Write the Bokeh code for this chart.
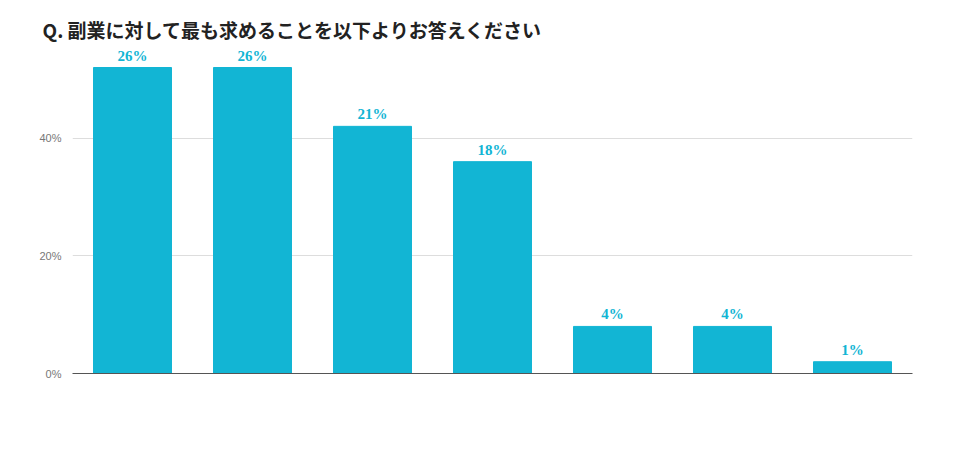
from bokeh.plotting import figure
from bokeh.models import ColumnDataSource, LabelSet, Label, FixedTicker
from bokeh.embed import file_html
from bokeh.resources import INLINE

cats = ["給与水準", "自己成長性", "勤務形態の柔軟性", "仕事内容のやりがい", "仕事内容の社会的意義", "カルチャーマッチ", "優秀な同僚"]
names = ["給与水準", "自己\n成長性", "勤務形態の\n柔軟性", "仕事内容の\nやりがい", "仕事内容の\n社会的意義", "カルチャー\nマッチ", "優秀な同僚"]
values = [26, 26, 21, 18, 4, 4, 1]
# bars in the original are drawn at twice the stated share
heights = [v * 2 for v in values]
tick_vals = [0, 20, 40]
tick_text = ["0%", "20%", "40%"]

color = "#12b5d4"
font = "Noto Sans CJK JP"

src = ColumnDataSource(dict(cat=cats, h=heights, lab=[f"{v}%" for v in values], name=names))

p = figure(x_range=cats, y_range=(0, 55.4), width=940, height=436,
           output_backend="svg", toolbar_location=None,
           min_border_left=72, min_border_right=28, min_border_top=47, min_border_bottom=63)
p.vbar(x="cat", top="h", width=0.65, color=color, source=src)

p.add_layout(LabelSet(x="cat", y="h", text="lab", source=src, text_align="center",
                      y_offset=4, text_color=color, text_font_size="15px",
                      text_font_style="bold", text_font=font))
p.add_layout(LabelSet(x="cat", y=0, text="name", source=src, text_align="center",
                      text_baseline="top", y_offset=-10, text_color="#222222",
                      text_font_size="12px", text_font=font, text_line_height=1.4))
# categorical centre of the third bar
p.add_layout(Label(x=2.5, y=0, text="（リモートワーク等）", text_align="center",
                   text_baseline="top", y_offset=-49, text_color="#222222",
                   text_font_size="9px", text_font=font))

p.title.text = "Q. 副業に対して最も求めることを以下よりお答えください"
p.title.text_font = font
p.title.text_font_size = "19px"
p.title.text_color = "#222222"
p.title.offset = -30
p.add_layout(Label(x=592, y=405, x_units="screen", y_units="screen", text="(n=249)",
                   text_font_size="10px", text_color="#444444", text_font=font))

p.xaxis.major_label_text_font_size = "0px"
p.xaxis.major_tick_line_color = None
p.xaxis.minor_tick_line_color = None
p.xaxis.axis_line_color = "#555555"
p.yaxis.ticker = FixedTicker(ticks=tick_vals)
p.yaxis.major_label_overrides = {t: s for t, s in zip(tick_vals, tick_text)}
p.yaxis.axis_line_color = None
p.yaxis.major_tick_line_color = None
p.yaxis.minor_tick_line_color = None
p.yaxis.major_label_text_color = "#777777"
p.yaxis.major_label_text_font_size = "11px"
p.xgrid.grid_line_color = None
p.ygrid.grid_line_color = "#dddddd"
p.outline_line_color = None

open("out.html", "w").write(file_html(p, INLINE))
